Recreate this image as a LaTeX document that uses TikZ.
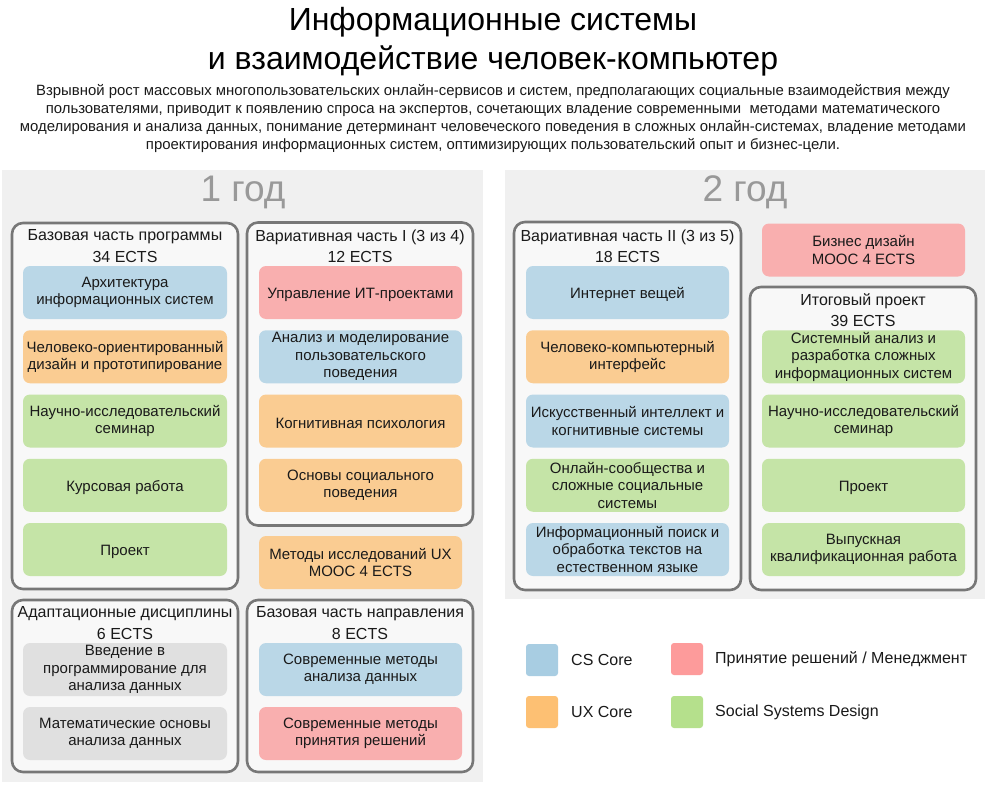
\documentclass[tikz,border=0pt]{standalone}
\usepackage{fontspec}
\setmainfont{Liberation Sans}
\definecolor{cblue}{HTML}{BAD7E7}
\definecolor{corange}{HTML}{FACC92}
\definecolor{cgreen}{HTML}{C5E4A7}
\definecolor{cred}{HTML}{F9AFAF}
\definecolor{cgray}{HTML}{E0E0E0}
\definecolor{lblue}{HTML}{A8CDE2}
\definecolor{lorange}{HTML}{FDC073}
\definecolor{lred}{HTML}{FD9B9B}
\definecolor{lgreen}{HTML}{B5E08C}
\definecolor{panelbg}{HTML}{F0F0F0}
\definecolor{groupbg}{HTML}{F8F8F8}
\definecolor{groupline}{HTML}{777777}
\definecolor{yeargray}{HTML}{999999}
\definecolor{txt}{HTML}{1A1A1A}
\begin{document}
\begin{tikzpicture}[x=1pt,y=-1pt,
  panel/.style={fill=panelbg,draw=none},
  group/.style={draw=groupline,line width=2.6pt,fill=groupbg,rounded corners=11pt,inner sep=0pt},
  course/.style={rounded corners=7pt,draw=none,inner sep=0pt,minimum width=203pt,minimum height=53pt,align=center,text=txt,font=\fontsize{15}{17.5}\selectfont,execute at begin node={\rule{0pt}{15pt}}},
  ghead/.style={align=center,text=txt,font=\fontsize{16}{20}\selectfont,inner sep=0pt},
  year/.style={text=yeargray,font=\fontsize{37}{40}\selectfont,inner sep=0pt},
  legsq/.style={rounded corners=3pt,draw=none,minimum width=32pt,minimum height=32pt,inner sep=0pt},
  legtxt/.style={anchor=west,text=txt,font=\fontsize{16}{18}\selectfont,inner sep=0pt}
]
\useasboundingbox[fill=white] (0,0) rectangle (986,800);

% title
\node[align=center,font=\fontsize{32}{38.5}\selectfont,inner sep=0pt] (title) at (493,41.5) {Информационные системы\\и взаимодействие человек-компьютер};
\node[align=center,font=\fontsize{14.9}{18}\selectfont,inner sep=0pt,text=txt] (desc) at (493,119) {Взрывной рост массовых многопользовательских онлайн-сервисов и систем, предполагающих социальные взаимодействия между\\пользователями, приводит к появлению спроса на экспертов, сочетающих владение современными\ \ методами математического\\моделирования и анализа данных, понимание детерминант человеческого поведения в сложных онлайн-системах, владение методами\\проектирования информационных систем, оптимизирующих пользовательский опыт и бизнес-цели.};

% panels
\path[panel] (2,170) rectangle (483,782);
\path[panel] (505,170) rectangle (985,599);
\node[year] (y1) at (243,192) {1 год};
\node[year] (y2) at (745,192) {2 год};

% groups year 1
\node[group,minimum width=226pt,minimum height=366pt] (g1) at (125,406) {};
\node[group,minimum width=226pt,minimum height=303pt] (g2) at (360,374) {};
\node[group,minimum width=226pt,minimum height=172pt] (g3) at (125,686) {};
\node[group,minimum width=226pt,minimum height=172pt] (g4) at (360,686) {};
% groups year 2
\node[group,minimum width=227pt,minimum height=368pt] (g5) at (627.5,406) {};
\node[group,minimum width=226pt,minimum height=303pt] (g6) at (863,438.5) {};

% headers
\node[ghead] (h1) at (125,237) {Базовая часть программы};
\node[ghead] (h1b) at (125,257) {34 ECTS};
\node[ghead] (h2) at (360,237) {Вариативная часть I (3 из 4)};
\node[ghead] (h2b) at (360,257) {12 ECTS};
\node[ghead] (h3) at (125,614) {Адаптационные дисциплины};
\node[ghead] (h3b) at (125,634) {6 ECTS};
\node[ghead] (h4) at (360,614) {Базовая часть направления};
\node[ghead] (h4b) at (360,634) {8 ECTS};
\node[ghead] (h5) at (627.5,237) {Вариативная часть II (3 из 5)};
\node[ghead] (h5b) at (627.5,257) {18 ECTS};
\node[ghead] (h6) at (863,301) {Итоговый проект};
\node[ghead] (h6b) at (863,321) {39 ECTS};

% column 1
\node[course,fill=cblue,minimum width=204pt] (a1) at (125,292.5) {Архитектура\\информационных систем};
\node[course,fill=corange,minimum width=204pt] (a2) at (125,356.75) {Человеко-ориентированный\\дизайн и прототипирование};
\node[course,fill=cgreen,minimum width=204pt] (a3) at (125,421) {Научно-исследовательский\\семинар};
\node[course,fill=cgreen,minimum width=204pt] (a4) at (125,485.25) {Курсовая работа};
\node[course,fill=cgreen,minimum width=204pt] (a5) at (125,549.5) {Проект};
\node[course,fill=cgray,minimum width=204pt] (a6) at (125,669.5) {Введение в\\программирование для\\анализа данных};
\node[course,fill=cgray,minimum width=204pt] (a7) at (125,733.5) {Математические основы\\анализа данных};

% column 2
\node[course,fill=cred] (b1) at (360.5,292.5) {Управление ИТ-проектами};
\node[course,fill=cblue] (b2) at (360.5,356.75) {Анализ и моделирование\\пользовательского\\поведения};
\node[course,fill=corange] (b3) at (360.5,421) {Когнитивная психология};
\node[course,fill=corange] (b4) at (360.5,485.25) {Основы социального\\поведения};
\node[course,fill=corange] (b5) at (360.5,562.5) {Методы исследований UX\\MOOC 4 ECTS};
\node[course,fill=cblue] (b6) at (360.5,669.5) {Современные методы\\анализа данных};
\node[course,fill=cred] (b7) at (360.5,733.5) {Современные методы\\принятия решений};

% column 3
\node[course,fill=cblue] (c1) at (627.5,292.5) {Интернет вещей};
\node[course,fill=corange] (c2) at (627.5,356.75) {Человеко-компьютерный\\интерфейс};
\node[course,fill=cblue] (c3) at (627.5,421) {Искусственный интеллект и\\когнитивные системы};
\node[course,fill=cgreen] (c4) at (627.5,485.25) {Онлайн-сообщества и\\сложные социальные\\системы};
\node[course,fill=cblue] (c5) at (627.5,549.5) {Информационный поиск и\\обработка текстов на\\естественном языке};

% column 4
\node[course,fill=cred] (d0) at (863.5,250) {Бизнес дизайн\\MOOC 4 ECTS};
\node[course,fill=cgreen] (d1) at (863.5,356.75) {Системный анализ и\\разработка сложных\\информационных систем};
\node[course,fill=cgreen] (d2) at (863.5,421) {Научно-исследовательский\\семинар};
\node[course,fill=cgreen] (d3) at (863.5,485.25) {Проект};
\node[course,fill=cgreen] (d4) at (863.5,549.5) {Выпускная\\квалификационная работа};

% legend
\node[legsq,fill=lblue] (l1) at (542,660) {};
\node[legtxt] (l1t) at (571,660) {CS Core};
\node[legsq,fill=lorange] (l2) at (542,712) {};
\node[legtxt] (l2t) at (571,712) {UX Core};
\node[legsq,fill=lred] (l3) at (687,659) {};
\node[legtxt] (l3t) at (715,659) {Принятие решений / Менеджмент};
\node[legsq,fill=lgreen] (l4) at (687,712) {};
\node[legtxt] (l4t) at (715,712) {Social Systems Design};
\end{tikzpicture}
\end{document}
